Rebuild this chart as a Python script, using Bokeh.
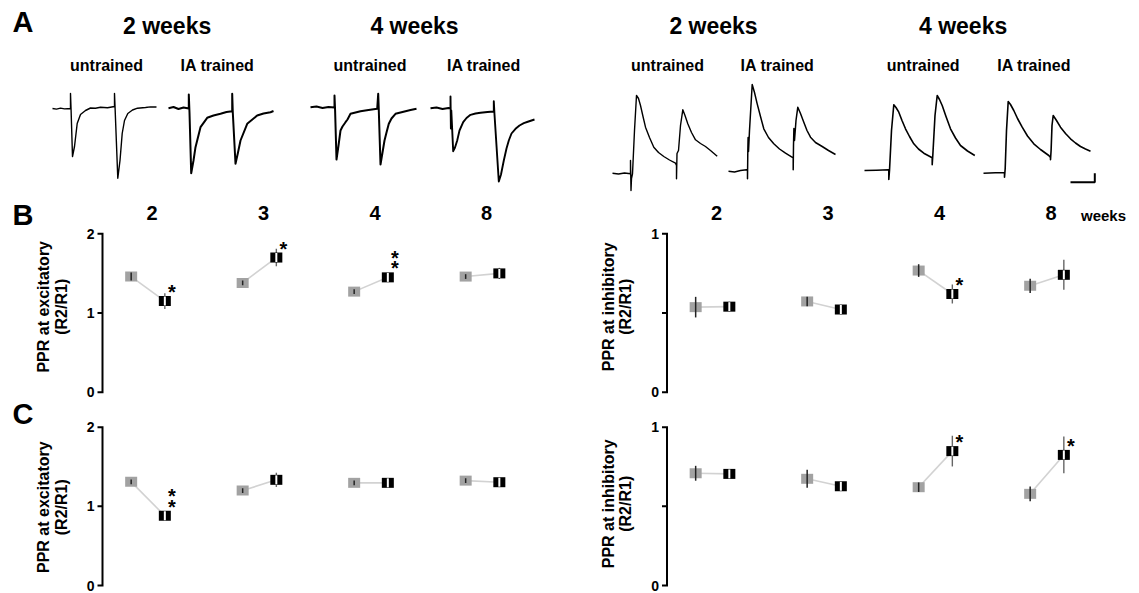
import math
from bokeh.plotting import figure
from bokeh.models import Range1d, ColumnDataSource
from bokeh.embed import file_html
from bokeh.resources import INLINE
from bokeh.core.properties import value

FONT = "Liberation Sans"

# ---------------- data ----------------
weeks = ["2", "3", "4", "8"]

# B: PPR (mean, sem)
b_exc_untrained = [1.46, 1.38, 1.27, 1.46]
b_exc_untrained_err = [0.05, 0.03, 0.03, 0.03]
b_exc_trained = [1.15, 1.70, 1.45, 1.50]
b_exc_trained_err = [0.10, 0.11, 0.04, 0.07]
b_exc_stars = [1, 1, 2, 0]

b_inh_untrained = [0.537, 0.573, 0.768, 0.672]
b_inh_untrained_err = [0.065, 0.03, 0.04, 0.045]
b_inh_trained = [0.540, 0.522, 0.620, 0.741]
b_inh_trained_err = [0.03, 0.02, 0.06, 0.095]
b_inh_stars = [0, 0, 1, 0]

# C
c_exc_untrained = [1.31, 1.20, 1.297, 1.325]
c_exc_untrained_err = [0.03, 0.03, 0.03, 0.03]
c_exc_trained = [0.88, 1.335, 1.297, 1.305]
c_exc_trained_err = [0.04, 0.09, 0.05, 0.04]
c_exc_stars = [2, 0, 0, 0]

c_inh_untrained = [0.709, 0.674, 0.621, 0.579]
c_inh_untrained_err = [0.047, 0.057, 0.03, 0.046]
c_inh_trained = [0.705, 0.627, 0.849, 0.825]
c_inh_trained_err = [0.03, 0.03, 0.097, 0.116]
c_inh_stars = [0, 0, 1, 1]

exc_ticks = [0.0, 1.0, 2.0]
exc_tick_labels = ["0", "1", "2"]
inh_ticks = [0.0, 0.5, 1.0]
inh_tick_labels = ["0", "", "1"]

# A: example traces (time from trace start, signal relative to baseline; arbitrary units)
trace_groups = ["2 weeks", "4 weeks", "2 weeks", "4 weeks"]
trace_conditions = ["untrained", "IA trained", "untrained", "IA trained",
                    "untrained", "IA trained", "untrained", "IA trained"]

t1 = [0, 4, 8, 12, 18, 18, 18.6, 20, 22, 24.7, 28, 33, 38, 43, 48, 55, 62, 62, 62.6, 65.3, 67.5, 69.7, 72, 75.3, 80, 85, 93, 98, 104]
v1 = [0, -0.6, 0.4, -0.4, 0, 15, -2, -48, -38, -15, -6, -2, 0.5, 0.2, 1.2, 0.8, 2, 15, 0, -69.7, -52, -25, -12, -5, -1.5, 0.3, 1, 1.6, 1.5]
t2 = [0, 5, 10, 15, 20.3, 20.3, 21, 22.7, 25, 27, 32, 38.7, 45, 52, 58, 63.7, 63.7, 64.3, 67, 69.5, 72, 78.7, 88.7, 95, 102, 105]
v2 = [0, 1.2, -0.8, 0.7, -0.3, 13.7, -4.3, -65, -52.3, -39, -19, -9.6, -7.3, -5.6, -3.8, -3, 14.4, -4.3, -55.6, -44.3, -32.3, -15.6, -7.3, -5.3, -4, -2.8]
t3 = [0, 6, 12, 18, 24, 24, 24.6, 26, 28, 30, 32, 35, 37, 40, 45, 50, 58, 66.7, 67.7, 68.3, 70, 72, 74, 76, 78.3, 81, 85, 90, 95, 100, 106]
v3 = [0, 0.7, -0.8, 0.2, -0.3, 11.7, -3.3, -52.3, -38.3, -23.3, -19.3, -15, -12.3, -6.6, -5.3, -4, -2.8, -1.6, 13.4, -3.3, -57.3, -45.3, -33.3, -25.3, -16.6, -11.3, -6.6, -5.3, -4, -2.8, -1.6]
t4 = [0, 6, 12, 18, 20, 20, 20.4, 20.8, 22.7, 24.5, 26.7, 29, 32.7, 36, 40, 45, 50, 57, 63.3, 63.3, 64, 68.3, 70.5, 73.3, 76, 78.3, 81, 85, 89, 93.3, 98, 104]
v4 = [0, 0.7, -0.8, 0.2, -0.3, 11.7, -20.3, -2.3, -43, -39.3, -32.3, -22.3, -14, -9.8, -6.6, -5.3, -4.6, -3.8, -3.3, 7, -6.3, -73.3, -66.3, -52.3, -40.3, -32.3, -25.3, -20.6, -17.3, -15, -13.3, -11.3]
t5 = [0, 6, 12, 18, 18, 18.5, 19, 20, 22, 24, 26, 28, 30.5, 33, 37, 41.3, 46, 51.3, 57, 63, 64, 64, 64.5, 66, 68, 70.3, 72.5, 75.3, 79, 83, 88, 93, 98, 104.7]
v5 = [0.3, -0.5, 0.5, -0.3, 13, -17, -5, -0.3, 43, 78, 75, 68, 57, 46.3, 36, 26.3, 21, 17, 13.5, 10.3, 8, -5.3, 20, 23, 48, 63.7, 58, 49.7, 41, 33.7, 30, 27, 23, 17.3]
t6 = [0, 6, 12, 18, 19, 19, 19.3, 19.6, 20, 21, 23.7, 26, 28.7, 32, 35.3, 40, 45.3, 51, 57, 64.7, 64.7, 65, 65.4, 66, 67.5, 69.3, 72, 75.3, 78.5, 82, 87, 93.7, 100, 107]
v6 = [0, -0.8, 0.7, 1.4, 1.2, -7.6, 18.7, 33.7, 19.7, 40.7, 86.7, 78.7, 67.4, 54.7, 42.4, 33.7, 27.4, 22.2, 18, 13.4, 1.4, 25.7, 42.7, 30.7, 50.7, 64, 57.7, 49, 40.7, 34, 28.7, 24.7, 20.7, 16.7]
t7 = [0, 12, 24.3, 24.3, 25, 27, 29.3, 31.5, 34.3, 37.5, 41, 45, 49.3, 54, 59.3, 63.5, 67.7, 67.7, 68.3, 70.5, 72.7, 75, 77.7, 81.5, 86, 91, 96, 103, 110.3]
v7 = [0, 0.3, 0.7, -9, 0, 40, 65.7, 63, 58.3, 50, 41.7, 34, 26.7, 21.5, 17.3, 15, 12.7, 5.7, 15, 55, 75, 71, 65, 54, 41.7, 32.5, 25, 19.5, 15]
t8 = [0, 12, 21, 21, 21.7, 23, 24.7, 27, 30.3, 34, 38.7, 44, 50.3, 57, 65.3, 67, 67, 67.6, 68.5, 69.7, 73, 77, 82, 87, 92, 97, 102, 107]
v8 = [0, 0.4, 0.7, -4, 4.7, 42.7, 71.7, 68.7, 62.7, 54.7, 46, 37.2, 29.4, 23.7, 17.7, 15.7, 13.4, 22.7, 47.7, 57.7, 52.7, 46, 39.7, 34.4, 30.2, 26.7, 24.2, 22]

# ---------------- styles / layout constants ----------------
GREY = "#a2a2a2"
LINK = "#d2d2d2"
W, H = 1139, 593
PX_PER_GROUP = 111.5
TICK_LEN = 5
OFFSET = 0.151


def PY(py):
    """page pixel row (from top) -> page y coordinate (from bottom)"""
    return H - py


p = figure(width=W, height=H, x_range=Range1d(0, W), y_range=Range1d(0, H),
           output_backend="svg", toolbar_location=None,
           x_axis_location=None, y_axis_location=None,
           min_border=0, min_border_left=0, min_border_right=0,
           min_border_top=0, min_border_bottom=0)
p.outline_line_color = None
p.grid.visible = False
p.background_fill_color = "white"
p.border_fill_color = "white"


def txt(x, y, s, size, align="center", baseline="middle", angle=0.0, **kw):
    p.text(x=[x], y=[y], text=[s], text_font=value(FONT), text_font_style="bold",
           text_font_size=f"{size}px", text_align=align, text_baseline=baseline,
           angle=angle, text_color="black", **kw)


# ---------------- A: traces ----------------
trace_t = [t1, t2, t3, t4, t5, t6, t7, t8]
trace_v = [v1, v2, v3, v4, v5, v6, v7, v8]
trace_x0 = [52, 168, 310, 430, 612, 728, 864, 983]
trace_base_row = [108, 107.7, 106.7, 107.7, 173, 170.7, 170, 172.7]
trace_lw = [1.4, 2.0, 2.0, 1.9, 1.4, 1.5, 1.6, 1.6]
for t, v, x0, b, lw in zip(trace_t, trace_v, trace_x0, trace_base_row, trace_lw):
    p.line([x0 + ti for ti in t], [PY(b) + vi for vi in v], line_color="black",
           line_width=lw, line_join="round")
# scale bar
p.line([1070, 1094.3, 1094.3], [PY(181.7), PY(181.7), PY(172.7)], line_color="black", line_width=2)

txt(12, PY(21.5), "A", 29, align="left")
for cx, g in zip([166.6, 414, 713, 962.6], trace_groups):
    txt(cx, PY(25.5), g, 23)
for cx, c in zip([106, 217, 369.5, 483.4, 667, 777, 922.7, 1033.6], trace_conditions):
    txt(cx, PY(65.3), c, 16)


# ---------------- B / C panels (own scales on the shared canvas) ----------------
def panel(name, axis_px, first_center, y0_row, ppu, ticks, tick_labels, ylabel, label_row,
          untr, untr_err, tr, tr_err, stars, headers=False):
    xn, yn = name + "_x", name + "_y"
    X = lambda px: (px - first_center) / PX_PER_GROUP
    Y = lambda py: (y0_row - py) / ppu
    p.extra_x_ranges[xn] = Range1d(X(0), X(W))
    p.extra_y_ranges[yn] = Range1d(Y(H), Y(0))
    kw = dict(x_range_name=xn, y_range_name=yn)

    xa = X(axis_px)
    xtk = X(axis_px - TICK_LEN)
    # y axis as one polyline: top tick -> rule down -> each lower tick out and back
    desc = list(reversed(ticks))
    ax_x, ax_y = [xtk, xa], [desc[0], desc[0]]
    for t in desc[1:]:
        ax_x += [xa, xtk, xa]
        ax_y += [t, t, t]
    p.line(x=ax_x, y=ax_y, line_color="black", line_width=2, line_join="miter", **kw)
    p.text(x=[X(axis_px - TICK_LEN - 3)] * len(ticks), y=ticks, text=tick_labels,
           text_font=value(FONT), text_font_style="bold", text_font_size="14px",
           text_align="right", text_baseline="middle", text_color="black", **kw)
    txt(axis_px - 59, PY(label_row), ylabel[0], 16, angle=math.pi / 2)
    txt(axis_px - 41.3, PY(label_row), ylabel[1], 16, angle=math.pi / 2)

    gi = list(range(len(weeks)))
    xu = [g - OFFSET for g in gi]
    xt = [g + OFFSET for g in gi]

    p.segment(x0=xu, y0=untr, x1=xt, y1=tr, line_color=LINK, line_width=1.6, **kw)
    p.segment(x0=xt, y0=[a - e for a, e in zip(tr, tr_err)], x1=xt,
              y1=[a + e for a, e in zip(tr, tr_err)], line_color="#666666", line_width=1.4, **kw)
    p.rect(x=xu, y=untr, width=12, height=10, width_units="screen", height_units="screen",
           fill_color=GREY, line_color=None, **kw)
    p.rect(x=xt, y=tr, width=12, height=10, width_units="screen", height_units="screen",
           fill_color="black", line_color=None, **kw)
    p.rect(x=xt, y=tr, width=2, height=9, width_units="screen", height_units="screen",
           fill_color="white", line_color=None, **kw)
    p.segment(x0=xu, y0=[a - e for a, e in zip(untr, untr_err)], x1=xu,
              y1=[a + e for a, e in zip(untr, untr_err)], line_color="#222222", line_width=1.5, **kw)

    sx, sy, so = [], [], []
    for g, val, n in zip(gi, tr, stars):
        for k in range(n):
            sx.append(g + OFFSET)
            sy.append(val)
            so.append(-9 - 10.5 * k)
    if sx:
        src = ColumnDataSource(dict(x=sx, y=sy, t=["*"] * len(sx), yo=so))
        p.text(x="x", y="y", text="t", source=src, x_offset=7, y_offset="yo",
               text_font=value(FONT), text_font_style="bold", text_font_size="20px",
               text_align="center", text_baseline="middle", text_color="black", **kw)

    if headers:
        p.text(x=[g + 4 / PX_PER_GROUP for g in gi], y=[Y(212)] * len(gi), text=weeks,
               text_font=value(FONT), text_font_style="bold", text_font_size="20px",
               text_align="center", text_baseline="middle", text_color="black", **kw)


panel("bl", 102, 147.5, 391.7, 79.2, exc_ticks, exc_tick_labels, ("PPR at excitatory", "(R2/R1)"),
      306.3, b_exc_untrained, b_exc_untrained_err, b_exc_trained, b_exc_trained_err, b_exc_stars,
      headers=True)
panel("br", 666.5, 712, 391.7, 158.4, inh_ticks, inh_tick_labels, ("PPR at inhibitory", "(R2/R1)"),
      306.3, b_inh_untrained, b_inh_untrained_err, b_inh_trained, b_inh_trained_err, b_inh_stars,
      headers=True)
panel("cl", 102, 147.5, 585, 79.15, exc_ticks, exc_tick_labels, ("PPR at excitatory", "(R2/R1)"),
      506.7, c_exc_untrained, c_exc_untrained_err, c_exc_trained, c_exc_trained_err, c_exc_stars)
panel("cr", 666.5, 712, 585, 158.3, inh_ticks, inh_tick_labels, ("PPR at inhibitory", "(R2/R1)"),
      503.3, c_inh_untrained, c_inh_untrained_err, c_inh_trained, c_inh_trained_err, c_inh_stars)

txt(12, PY(214), "B", 29, align="left")
txt(12, PY(413), "C", 29, align="left")
txt(1103, PY(215), "weeks", 15)

open("out.html", "w").write(file_html(p, INLINE))
